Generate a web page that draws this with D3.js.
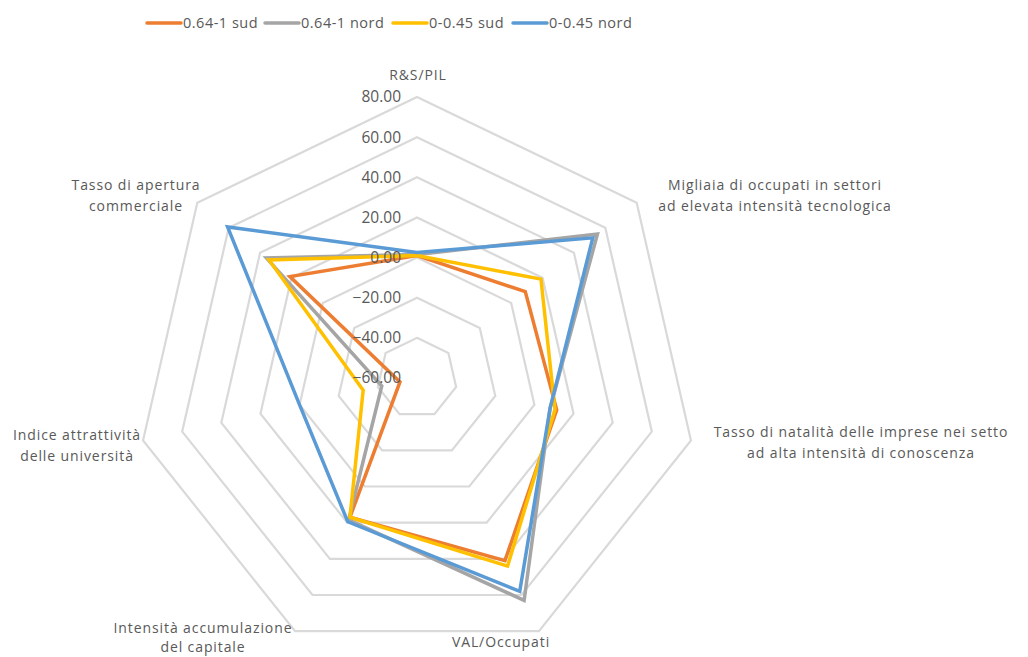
<!DOCTYPE html>
<html>
<head>
<meta charset="utf-8">
<script src="https://cdn.jsdelivr.net/npm/d3@7"></script>
<style>
  html, body { margin: 0; padding: 0; background: #fff; }
  svg { display: block; font-family: "Open Sans", "Liberation Sans", sans-serif; }
</style>
</head>
<body>
<svg id="chart" width="1028" height="657"></svg>
<script>
// categories (axes, clockwise from top)
const categories = [
    ["R&S/PIL"],
    ["Migliaia di occupati in settori", "ad elevata intensità tecnologica"],
    ["Tasso di natalità delle imprese nei setto", "ad alta intensità di conoscenza"],
    ["VAL/Occupati"],
    ["Intensità accumulazione", "del capitale"],
    ["Indice attrattività", "delle università"],
    ["Tasso di apertura", "commerciale"]
];

const seriesNames = ["0.64-1 sud", "0.64-1 nord", "0-0.45 sud", "0-0.45 nord"];
const seriesColors = ["#ED7D31", "#A5A5A5", "#FFC000", "#5B9BD5"];

const sud064 = [1.0, 9.0, 11.4, 41.0, 17.0, -51.3, 21.0];
const nord064 = [1.5, 55.0, 8.0, 63.0, 18.5, -42.0, 36.0];
const sud045 = [1.0, 19.0, 10.5, 44.0, 17.0, -32.5, 34.3];
const nord045 = [2.5, 52.0, 8.0, 58.0, 19.5, 0.0, 60.7];

const tickValues = [-60, -40, -20, 0, 20, 40, 60, 80];

// layout
const cx = 417, cy = 378, radius = 281;
const svg = d3.select("#chart");

const r = d3.scaleLinear().domain([-60, 80]).range([0, radius]);
const angle = d3.scaleLinear().domain([0, categories.length]).range([0, 2 * Math.PI]);

function point(i, v) {
    const a = angle(i);
    return [cx + r(v) * Math.sin(a), cy - r(v) * Math.cos(a)];
}

const g = svg.append("g");

// grid rings
const ringLine = d3.line();
tickValues.filter(t => t > -60).forEach(t => {
    const pts = categories.map((c, i) => point(i, t));
    g.append("path")
        .attr("d", ringLine(pts) + "Z")
        .attr("fill", "none")
        .attr("stroke", "#D9D9D9")
        .attr("stroke-width", 2.2);
});

// series
const data = [sud064, nord064, sud045, nord045];
const radarLine = d3.lineRadial()
    .angle((d, i) => angle(i))
    .radius(d => r(d))
    .curve(d3.curveLinearClosed);

data.forEach((vals, k) => {
    g.append("path")
        .attr("transform", "translate(" + cx + "," + cy + ")")
        .attr("d", radarLine(vals))
        .attr("fill", "none")
        .attr("stroke", seriesColors[k])
        .attr("stroke-width", 3.5)
        .attr("stroke-linejoin", "miter");
});

// tick labels
g.append("g").selectAll("text")
    .data(tickValues)
    .join("text")
    .attr("x", cx - 16)
    .attr("y", d => cy - r(d))
    .attr("dy", "0.35em")
    .attr("text-anchor", "end")
    .attr("font-size", 15.5)
    .attr("fill", "#595959")
    .text(d => d3.format(".2f")(d));

// category labels (positions)
const labelPos = [[418, 75], [775, 185], [861, 432], [501, 642], [203, 628], [77, 435], [136, 185]];
const lineGap = [21.5, 21.5, 21.5, 21.5, 19.5, 21.5, 21.5];
categories.forEach((lines, i) => {
    const t = g.append("text")
        .attr("text-anchor", "middle")
        .attr("font-size", 14)
        .attr("fill", "#595959")
        .attr("letter-spacing", 0.9);
    lines.forEach((ln, j) => {
        t.append("tspan")
            .attr("x", labelPos[i][0])
            .attr("y", labelPos[i][1] + j * lineGap[i])
            .attr("dy", "0.35em")
            .text(ln);
    });
});

// legend
const legendX = [147, 265, 393, 513];
const legend = svg.append("g");
seriesNames.forEach((name, k) => {
    legend.append("line")
        .attr("x1", legendX[k]).attr("x2", legendX[k] + 34)
        .attr("y1", 23).attr("y2", 23)
        .attr("stroke", seriesColors[k])
        .attr("stroke-width", 3.5)
        .attr("stroke-linecap", "round");
    legend.append("text")
        .attr("x", legendX[k] + 36)
        .attr("y", 23)
        .attr("dy", "0.35em")
        .attr("font-size", 14.5)
        .attr("fill", "#595959")
        .attr("letter-spacing", 0.5)
        .text(name);
});
</script>
</body>
</html>
